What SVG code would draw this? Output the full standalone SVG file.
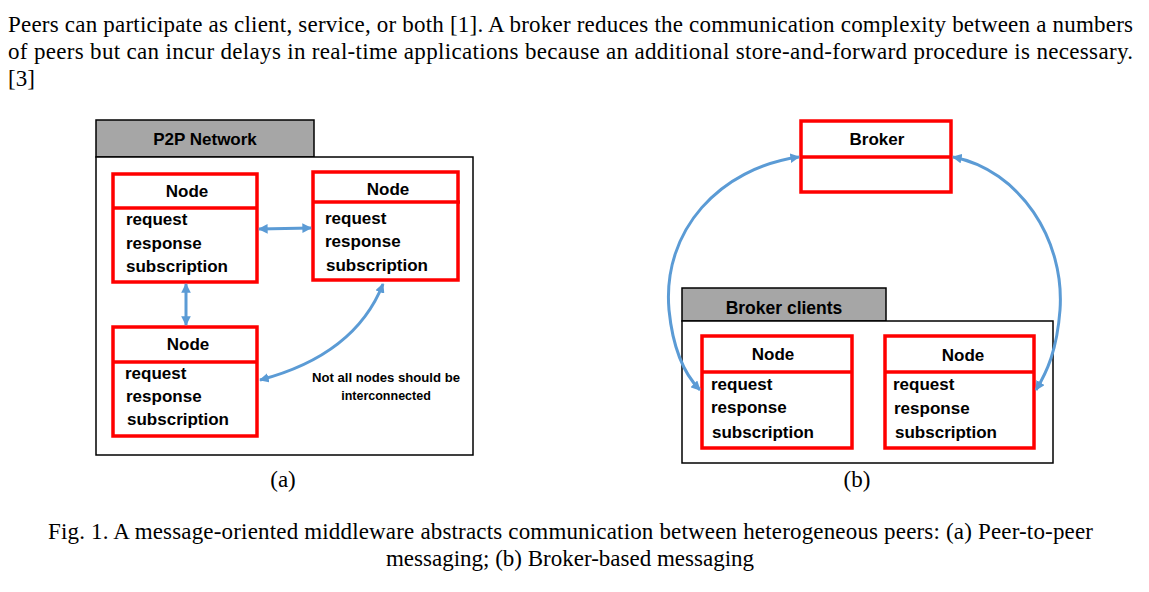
<svg xmlns="http://www.w3.org/2000/svg" width="1149" height="592" viewBox="0 0 1149 592">
<defs>
<style>
.serif{font-family:"Liberation Serif","Times New Roman",serif;font-size:23px;fill:#000}
.b{font-family:"Liberation Sans",Arial,sans-serif;font-weight:bold;fill:#000}
.nt{font-size:17px;text-anchor:middle}
.it{font-size:17px}
.tab{fill:#a6a6a6;stroke:#000;stroke-width:1.5}
.frame{fill:#fff;stroke:#000;stroke-width:1.5}
.node{fill:#fff;stroke:#ff0000;stroke-width:3.5}
.conn{fill:none;stroke:#5b9bd5;stroke-width:3;marker-start:url(#ah);marker-end:url(#ah)}
</style>
<marker id="ah" viewBox="0 0 10 10" refX="9" refY="5" markerWidth="3.2" markerHeight="3.2" orient="auto-start-reverse" markerUnits="strokeWidth">
<path d="M0,0 L10,5 L0,10 Z" fill="#5b9bd5"/>
</marker>
</defs>
<rect width="1149" height="592" fill="#fff"/>

<g id="paragraph">
<text class="serif" x="8" y="32" textLength="1125" lengthAdjust="spacing">Peers can participate as client, service, or both [1]. A broker reduces the communication complexity between a numbers</text>
<text class="serif" x="8" y="59" textLength="1125" lengthAdjust="spacing">of peers but can incur delays in real-time applications because an additional store-and-forward procedure is necessary.</text>
<text class="serif" x="8" y="86">[3]</text>
</g>

<!-- (a) P2P network -->
<g id="p2p-network">
<rect class="tab" x="96" y="120" width="218" height="37"/>
<rect class="frame" x="96" y="157" width="377" height="298"/>
<text class="b" x="205" y="145" font-size="17" text-anchor="middle">P2P Network</text>
</g>

<g id="node-a1">
<rect class="node" x="113" y="174" width="144" height="108"/>
<line x1="113" y1="208" x2="257" y2="208" stroke="#ff0000" stroke-width="3.5"/>
<text class="b nt" x="187" y="197">Node</text>
<text class="b it" x="126" y="225">request</text>
<text class="b it" x="126" y="249">response</text>
<text class="b it" x="126" y="272">subscription</text>
</g>

<g id="node-a2">
<rect class="node" x="313" y="172" width="145" height="108"/>
<line x1="313" y1="202" x2="460" y2="202" stroke="#ff0000" stroke-width="3.5"/>
<text class="b nt" x="388" y="195">Node</text>
<text class="b it" x="325" y="224">request</text>
<text class="b it" x="325" y="247">response</text>
<text class="b it" x="326" y="271">subscription</text>
</g>

<g id="node-a3">
<rect class="node" x="113" y="327" width="144" height="109"/>
<line x1="113" y1="362" x2="257" y2="362" stroke="#ff0000" stroke-width="3.5"/>
<text class="b nt" x="188" y="350">Node</text>
<text class="b it" x="125" y="379">request</text>
<text class="b it" x="126" y="402">response</text>
<text class="b it" x="127" y="425">subscription</text>
</g>

<g id="note-a">
<text class="b" x="386" y="382" font-size="12.5" text-anchor="middle" textLength="148" lengthAdjust="spacingAndGlyphs">Not all nodes should be</text>
<text class="b" x="386" y="400" font-size="12.5" text-anchor="middle">interconnected</text>
</g>

<!-- (b) Broker -->
<g id="broker-clients">
<rect class="tab" x="682" y="288" width="204" height="33"/>
<rect class="frame" x="682" y="321" width="371" height="142"/>
<text class="b" x="784" y="314" font-size="17.5" text-anchor="middle">Broker clients</text>
</g>

<g id="broker">
<rect class="node" x="801" y="121" width="150" height="71"/>
<line x1="801" y1="157" x2="951" y2="157" stroke="#ff0000" stroke-width="3.5"/>
<text class="b nt" x="877" y="145">Broker</text>
</g>

<g id="node-b1">
<rect class="node" x="702" y="336" width="150" height="112"/>
<line x1="702" y1="372" x2="853" y2="372" stroke="#ff0000" stroke-width="3.5"/>
<text class="b nt" x="773" y="360">Node</text>
<text class="b it" x="711" y="390">request</text>
<text class="b it" x="711" y="413">response</text>
<text class="b it" x="712" y="438">subscription</text>
</g>

<g id="node-b2">
<rect class="node" x="885" y="336" width="149" height="112"/>
<line x1="885" y1="372" x2="1034" y2="372" stroke="#ff0000" stroke-width="3.5"/>
<text class="b nt" x="963" y="361">Node</text>
<text class="b it" x="893" y="390">request</text>
<text class="b it" x="894" y="414">response</text>
<text class="b it" x="895" y="438">subscription</text>
</g>

<g id="connectors">
<path class="conn" d="M259,229 L311,228"/>
<path class="conn" d="M186,284 L186,325"/>
<path class="conn" d="M383,284 Q355,355 260,380"/>
<path class="conn" d="M799,157 C720,168 662,230 669,310 C673,350 685,375 700,390"/>
<path class="conn" d="M953,157 C1020,170 1065,240 1060,310 C1057,350 1047,372 1036,390"/>
</g>

<g id="captions">
<text class="serif" x="283" y="487" text-anchor="middle">(a)</text>
<text class="serif" x="857" y="487" text-anchor="middle">(b)</text>
<text class="serif" x="48" y="539" textLength="1045" lengthAdjust="spacing">Fig. 1. A message-oriented middleware abstracts communication between heterogeneous peers: (a) Peer-to-peer</text>
<text class="serif" x="570" y="566" text-anchor="middle">messaging; (b) Broker-based messaging</text>
</g>
</svg>
